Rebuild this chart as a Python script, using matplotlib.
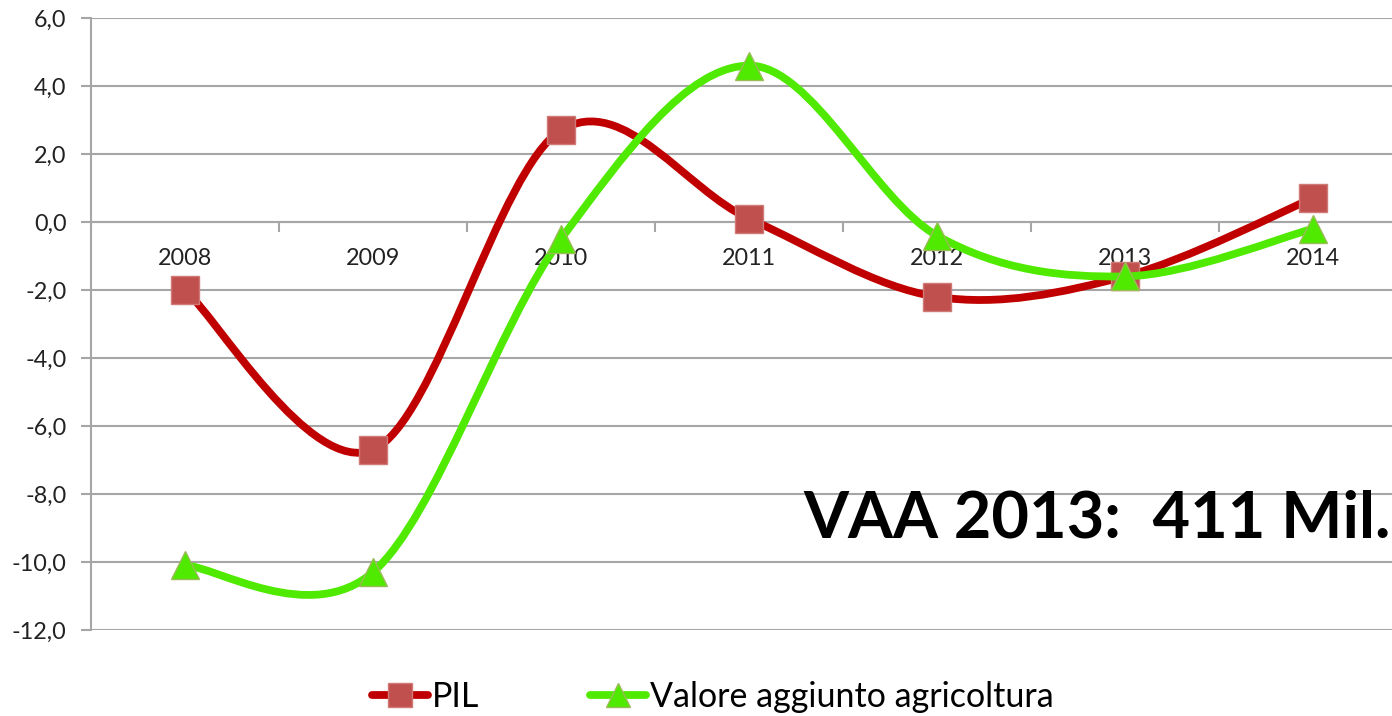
import matplotlib
matplotlib.use("Agg")
import matplotlib.pyplot as plt
from matplotlib.path import Path
from matplotlib.patches import PathPatch
from matplotlib.lines import Line2D
import numpy as np

years = ["2008", "2009", "2010", "2011", "2012", "2013", "2014"]
pil = [-2.0, -6.7, 2.7, 0.1, -2.2, -1.6, 0.7]
vaa = [-10.1, -10.3, -0.5, 4.6, -0.4, -1.6, -0.2]
yticks = [-12, -10, -8, -6, -4, -2, 0, 2, 4, 6]
ytick_labels = ["-12,0", "-10,0", "-8,0", "-6,0", "-4,0", "-2,0", "0,0", "2,0", "4,0", "6,0"]
legend_labels = ["PIL", "Valore aggiunto agricoltura"]
note = "VAA 2013:  411 Mil."

RED = "#C00000"
RED_M = "#C0504D"
GREEN = "#4FEA00"
GREEN_EDGE = "#9BBB59"
GRID = "#A6A6A6"

plt.rcParams['font.family'] = ['Lato', 'DejaVu Sans']

W, H = 1392, 716
fig = plt.figure(figsize=(W / 100, H / 100), dpi=100)
ax = fig.add_axes([91 / W, 1 - 630 / H, (1407 - 91) / W, (630 - 18) / H])

xs = np.arange(len(years))


def smooth_path(x, y):
    pts = np.column_stack([x, y]).astype(float)
    n = len(pts)
    verts = [pts[0]]
    codes = [Path.MOVETO]
    for i in range(n - 1):
        p0 = pts[i - 1] if i > 0 else pts[i]
        p1 = pts[i]
        p2 = pts[i + 1]
        p3 = pts[i + 2] if i + 2 < n else pts[i + 1]
        c1 = p1 + (p2 - p0) / 6.0
        c2 = p2 - (p3 - p1) / 6.0
        verts += [c1, c2, p2]
        codes += [Path.CURVE4] * 3
    return Path(verts, codes)


ax.set_xlim(-0.5, len(years) - 0.5)
ax.set_ylim(-12, 6)

for v in yticks:
    ax.axhline(v, color=GRID, lw=1.5, zorder=1)

ax.add_patch(PathPatch(smooth_path(xs, pil), facecolor='none', edgecolor=RED,
                       lw=5.6, capstyle='round', joinstyle='round', zorder=3))
ax.plot(xs, pil, ls='none', marker='s', ms=19.5, mfc=RED_M, mec='#D07A77', mew=1, zorder=4)
ax.add_patch(PathPatch(smooth_path(xs, vaa), facecolor='none', edgecolor=GREEN,
                       lw=5.6, capstyle='round', joinstyle='round', zorder=5))
ax.plot(xs, vaa, ls='none', marker='^', ms=19.5, mfc=GREEN, mec=GREEN_EDGE, mew=1, zorder=6)

# axes styling
for s in ['top', 'right']:
    ax.spines[s].set_visible(False)
ax.spines['left'].set_color(GRID)
ax.spines['left'].set_linewidth(1.5)
ax.spines['bottom'].set_position(('data', 0))
ax.spines['bottom'].set_color(GRID)
ax.spines['bottom'].set_linewidth(1.5)

ax.set_yticks(yticks)
ax.set_yticklabels(ytick_labels)
ax.tick_params(axis='y', direction='out', length=7, width=1.5, color=GRID,
               labelsize=16.8, labelcolor='#222222', pad=10.5)

ax.set_xticks(xs)
ax.set_xticklabels(years)
ax.set_xticks(np.arange(len(years) + 1) - 0.5, minor=True)
ax.tick_params(axis='x', which='major', length=0, labelsize=16.8, labelcolor='#222222', pad=19)
ax.tick_params(axis='x', which='minor', direction='out', length=7, width=1.5, color=GRID)

# annotation text, fitted to the width it occupies in the reference
txt = fig.text(803 / W, 1 - 538 / H, note, fontsize=51, fontweight='bold', color='black',
               ha='left', va='baseline')
fig.canvas.draw()
r = fig.canvas.get_renderer()
wpx = txt.get_window_extent(r).width
target = 1391 - 803
if wpx > target:
    txt.set_fontsize(51 * target / wpx)

handles = [
    Line2D([], [], color=RED, lw=5.6, solid_capstyle='round', marker='s', ms=17,
           mfc=RED_M, mec='#D07A77'),
    Line2D([], [], color=GREEN, lw=5.6, solid_capstyle='round', marker='^', ms=17,
           mfc=GREEN, mec=GREEN_EDGE),
]
fig.legend(handles, legend_labels, loc='center', bbox_to_anchor=(713 / W, 1 - 697 / H),
           ncol=2, frameon=False, fontsize=24.5, handlelength=1.65, handletextpad=0.12,
           columnspacing=3.25, borderpad=0, borderaxespad=0)

fig.savefig("out.png", dpi=100)
